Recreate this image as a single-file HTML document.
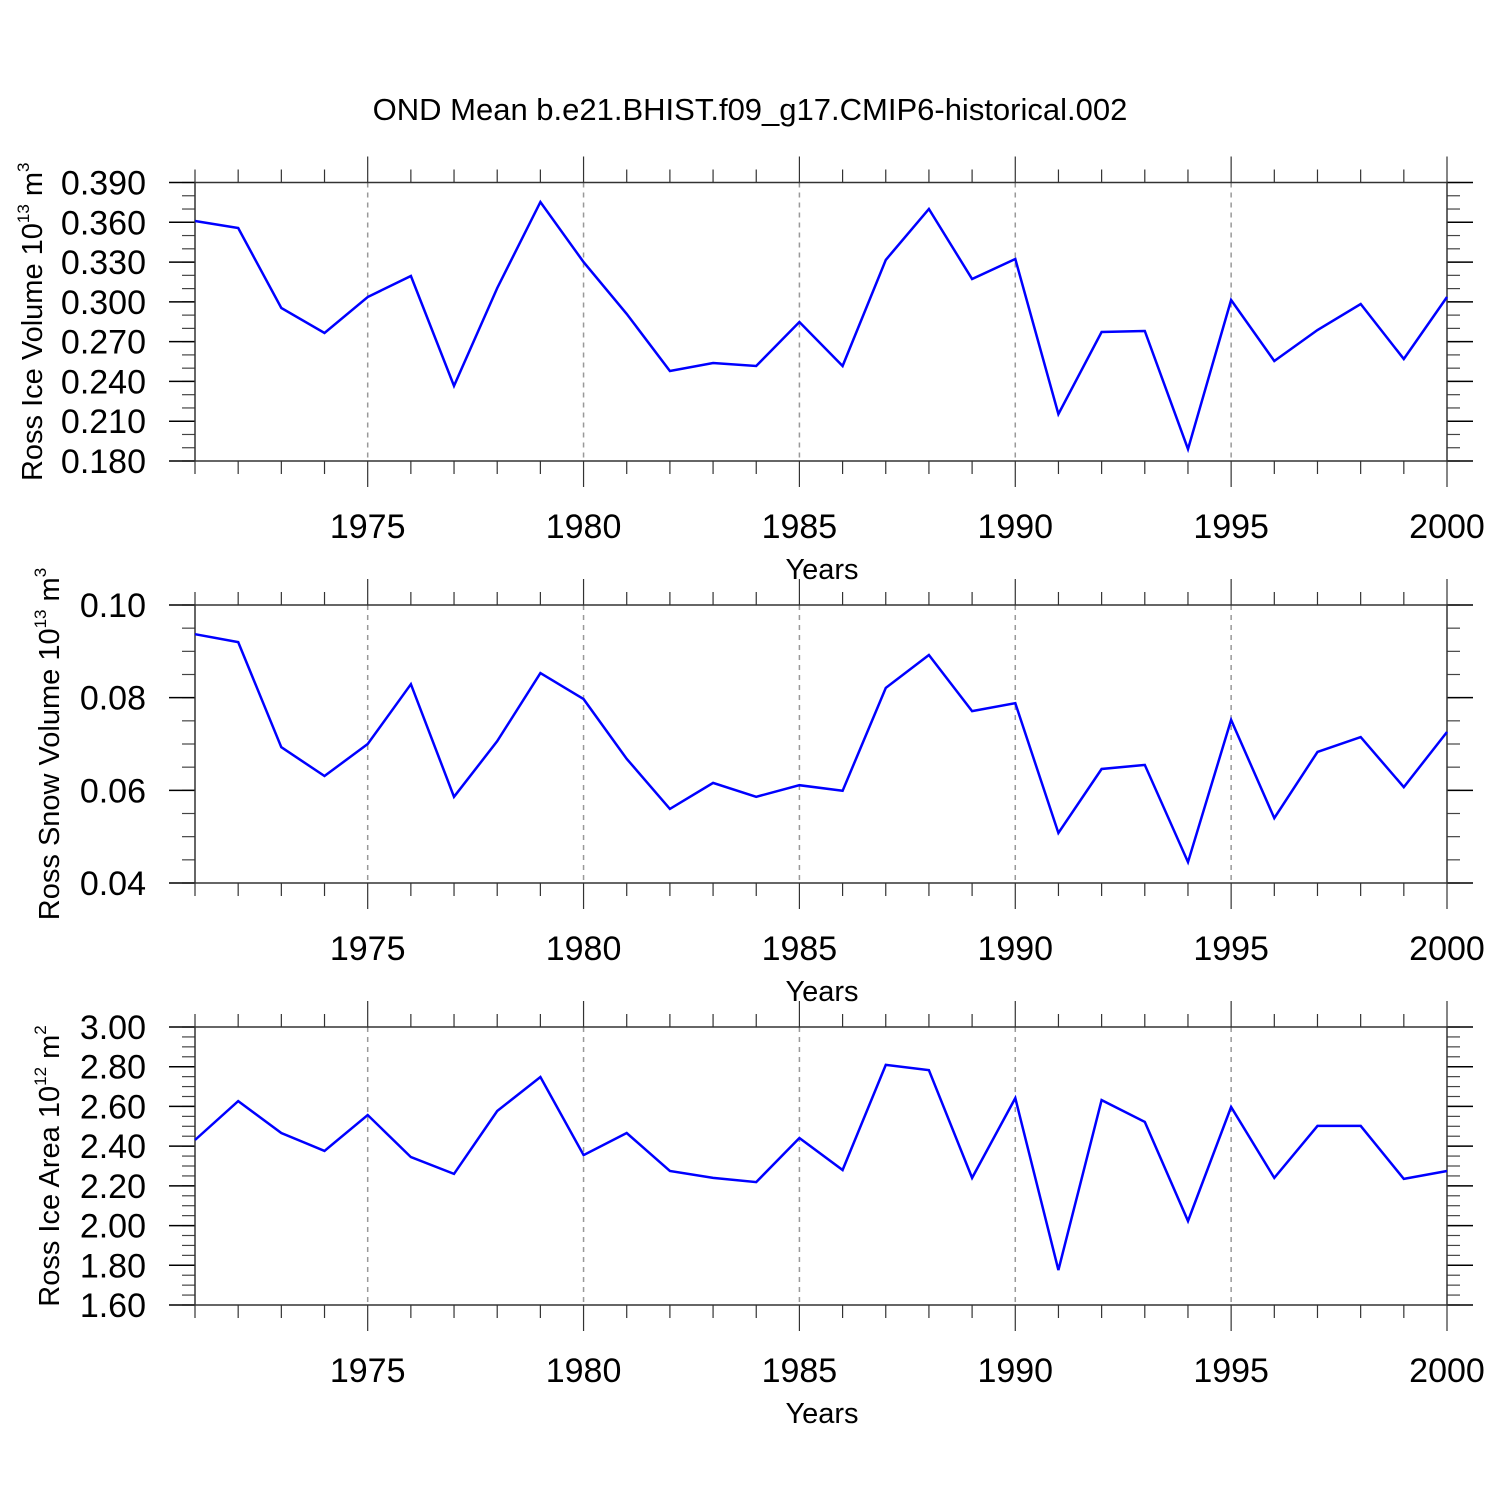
<!DOCTYPE html>
<html><head><meta charset="utf-8"><style>
html,body{margin:0;padding:0;background:#fff;}
svg{display:block;font-family:"Liberation Sans",Arial,sans-serif;}
</style></head><body>
<svg id="chart" width="1500" height="1500" viewBox="0 0 1500 1500" xmlns="http://www.w3.org/2000/svg">
<text x="750" y="120" font-size="31" text-anchor="middle">OND Mean b.e21.BHIST.f09_g17.CMIP6-historical.002</text>
</svg>
<script>
const years = [1971,1972,1973,1974,1975,1976,1977,1978,1979,1980,1981,1982,1983,1984,1985,1986,1987,1988,1989,1990,1991,1992,1993,1994,1995,1996,1997,1998,1999,2000];
const iceVolume = [0.361,0.3557,0.2954,0.2765,0.3037,0.3195,0.2366,0.3104,0.3753,0.330,0.2909,0.2479,0.2539,0.2516,0.2848,0.2516,0.3316,0.370,0.3172,0.3323,0.2154,0.2773,0.278,0.189,0.3014,0.2554,0.2788,0.2984,0.2569,0.3037];
const snowVolume = [0.0937,0.0920,0.0693,0.0631,0.0700,0.0829,0.0586,0.0706,0.0853,0.0797,0.0668,0.0560,0.0616,0.0586,0.0611,0.0599,0.0821,0.0892,0.0771,0.0788,0.0508,0.0646,0.0655,0.0445,0.0752,0.0540,0.0683,0.0715,0.0607,0.0726];
const iceArea = [2.431,2.627,2.466,2.376,2.557,2.345,2.260,2.577,2.748,2.355,2.466,2.275,2.240,2.219,2.441,2.280,2.809,2.783,2.240,2.642,1.776,2.632,2.522,2.023,2.597,2.240,2.502,2.502,2.235,2.275];
const xTickLabels = [1975,1980,1985,1990,1995,2000];
const iceVolTicks = ["0.180","0.210","0.240","0.270","0.300","0.330","0.360","0.390"];
const snowTicks = ["0.04","0.06","0.08","0.10"];
const areaTicks = ["1.60","1.80","2.00","2.20","2.40","2.60","2.80","3.00"];

const NS="http://www.w3.org/2000/svg";
const svg=document.getElementById('chart');
function mk(tag,attrs,parent){const e=document.createElementNS(NS,tag);for(const k in attrs)e.setAttribute(k,attrs[k]);(parent||svg).appendChild(e);return e;}
const X0=195,X1=1447;
function xs(yr){return X0+(yr-1971)/(2000-1971)*(X1-X0);}

function panel(name,top,bot,vals,ticks,minorStep,titleMain,sup,unit,titleX){
  const g=mk('g',{});
  
  
  const ymin=parseFloat(ticks[0]),ymax=parseFloat(ticks[ticks.length-1]);
  const ys=v=>bot-(v-ymin)/(ymax-ymin)*(bot-top);
  xTickLabels.forEach(t=>{ if(t<2000){const l=mk('line',{x1:xs(t),x2:xs(t),y1:top,y2:bot,stroke:'#999','stroke-width':1.5,'stroke-dasharray':'5,5'},g);
    
    }});
  const n=Math.round((ymax-ymin)/minorStep);
  for(let i=0;i<=n;i++){const y=ys(ymin+i*minorStep);
    mk('line',{x1:X0-13,x2:X0,y1:y,y2:y,stroke:'#444','stroke-width':1.2},g);
    mk('line',{x1:X1,x2:X1+13,y1:y,y2:y,stroke:'#444','stroke-width':1.2},g);}
  ticks.forEach(t=>{const y=ys(parseFloat(t));
    mk('line',{x1:X0-26,x2:X0,y1:y,y2:y,stroke:'#000','stroke-width':1.5},g);
    mk('line',{x1:X1,x2:X1+26,y1:y,y2:y,stroke:'#000','stroke-width':1.5},g);
    const tx=mk('text',{x:X0-49,y:y+12,'font-size':34,'text-anchor':'end'},g);tx.textContent=t;
    
    });
  years.forEach(yr=>{const x=xs(yr);const major=yr%5===0;
    mk('line',{x1:x,x2:x,y1:top-(major?26:13),y2:top,stroke:'#333','stroke-width':1.2},g);
    mk('line',{x1:x,x2:x,y1:bot,y2:bot+(major?26:13),stroke:'#333','stroke-width':1.2},g);});
  xTickLabels.forEach(t=>{const tx=mk('text',{x:xs(t),y:bot+77,'font-size':34,'text-anchor':'middle'},g);tx.textContent=t;
    
    });
  const fr=mk('rect',{x:X0,y:top,width:X1-X0,height:bot-top,fill:'none',stroke:'#333','stroke-width':1.5},g);
  
  
  const pts=vals.map((v,i)=>xs(years[i]).toFixed(1)+','+ys(v).toFixed(1)).join(' ');
  const pl=mk('polyline',{points:pts,fill:'none',stroke:'#0000ff','stroke-width':2.5,'stroke-linejoin':'miter'},g);
  
  
  const xt=mk('text',{x:822,y:bot+118,'font-size':29,'text-anchor':'middle'},g);xt.textContent='Years';
  
  
  const cy=(top+bot)/2;
  const yt=mk('text',{transform:`translate(${titleX},${cy}) rotate(-90)`,'font-size':29,'text-anchor':'middle'},g);
  
  
  const a=mk('tspan',{},yt);a.textContent=titleMain+' 10';
  const b=mk('tspan',{dy:-13,'font-size':17},yt);b.textContent=sup;
  const c=mk('tspan',{dy:13},yt);c.textContent=' m';
  const d=mk('tspan',{dy:-13,'font-size':17},yt);d.textContent=unit;
}
panel('ice-volume',182.5,461,iceVolume,iceVolTicks,0.01,'Ross Ice Volume','13','3',42);
panel('snow-volume',605,883,snowVolume,snowTicks,0.005,'Ross Snow Volume','13','3',59);
panel('ice-area',1027,1305,iceArea,areaTicks,0.05,'Ross Ice Area','12','2',59);
</script>
</body></html>
